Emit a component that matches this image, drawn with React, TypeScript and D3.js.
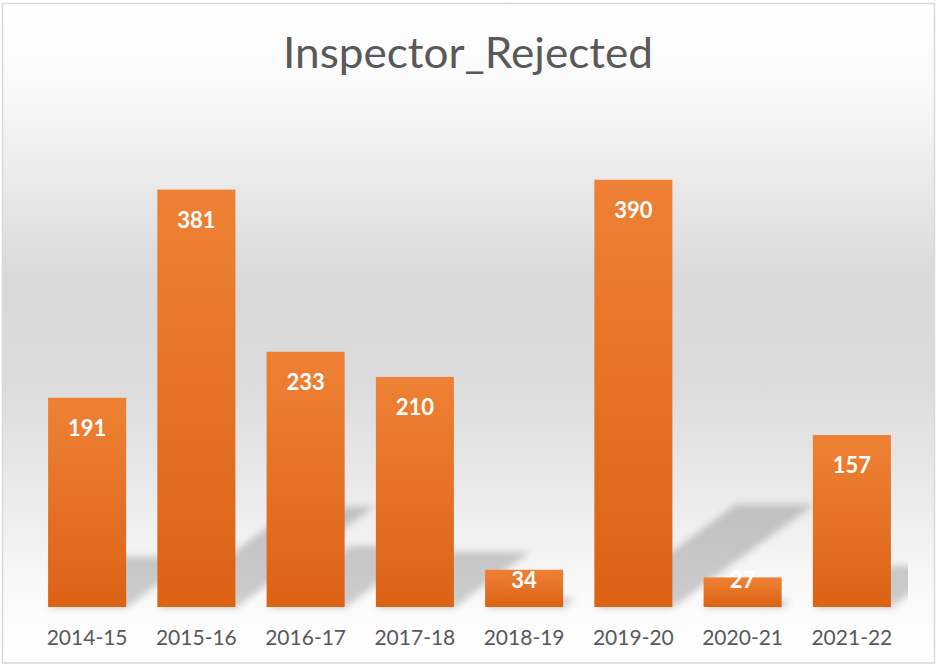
import React from "react";
import * as d3 from "d3";

const categories = ["2014-15", "2015-16", "2016-17", "2017-18", "2018-19", "2019-20", "2020-21", "2021-22"];
const values = [191, 381, 233, 210, 34, 390, 27, 157];
const title = "Inspector_Rejected";

const W = 936;
const H = 666;

export default function App() {
  const x = d3
    .scaleBand<string>()
    .domain(categories)
    .range([32.5, 906.5])
    .paddingInner(0.2857)
    .paddingOuter(0.1428);
  const y = d3.scaleLinear().domain([0, 450]).range([607, 114]);
  const y0 = y(0);

  const shadowPath = (c: string, v: number) => {
    const x0 = x(c)!;
    const x1 = x0 + x.bandwidth();
    const h = y0 - y(v);
    const sh = h * 0.24;
    const shift = sh * 1.38;
    const p = d3.path();
    p.moveTo(x0, y0 + 1);
    p.lineTo(x1, y0 + 1);
    p.lineTo(x1 + shift, y0 - sh);
    p.lineTo(x0 + shift, y0 - sh);
    p.closePath();
    return p.toString();
  };

  return (
    <svg
      width={W}
      height={H}
      style={{ position: "absolute", left: 0, top: 0 }}
      fontFamily="Lato, 'Open Sans', sans-serif"
    >
      <defs>
        <linearGradient id="bg" x1="0" y1="0" x2="0" y2="1">
          <stop offset="0" stopColor="#ffffff" />
          <stop offset="0.12" stopColor="#fafafa" />
          <stop offset="0.25" stopColor="#ececec" />
          <stop offset="0.42" stopColor="#d9d9d9" />
          <stop offset="0.58" stopColor="#dcdcdc" />
          <stop offset="0.76" stopColor="#ececec" />
          <stop offset="0.9" stopColor="#fafafa" />
          <stop offset="1" stopColor="#ffffff" />
        </linearGradient>
        <linearGradient id="bar" x1="0" y1="0" x2="0" y2="1">
          <stop offset="0" stopColor="#ee8135" />
          <stop offset="1" stopColor="#dc6214" />
        </linearGradient>
        <filter id="blur" x="-20%" y="-20%" width="140%" height="140%">
          <feGaussianBlur stdDeviation="3.5" />
        </filter>
        <clipPath id="plotClip">
          <rect x={32} y={100} width={876} height={515} />
        </clipPath>
      </defs>

      <rect x={2.5} y={3.5} width={932} height={659.5} fill="url(#bg)" stroke="#d9d9d9" strokeWidth={1.5} />

      <text
        x={468}
        y={68}
        textAnchor="middle"
        fontSize={42}
        fill="#595959"
        fontWeight={400}
        textLength={370}
        lengthAdjust="spacingAndGlyphs"
      >
        {title}
      </text>

      <g clipPath="url(#plotClip)">
        <g filter="url(#blur)">
          {categories.map((c, i) => (
            <path key={c} d={shadowPath(c, values[i])} fill="#000" fillOpacity={0.19} />
          ))}
        </g>
      </g>

      {categories.map((c, i) => (
        <rect
          key={c}
          x={x(c)!}
          y={y(values[i])}
          width={x.bandwidth()}
          height={y0 - y(values[i])}
          fill="url(#bar)"
        />
      ))}

      {categories.map((c, i) => (
        <text
          key={c}
          x={x(c)! + x.bandwidth() / 2}
          y={Math.min(y(values[i]) + 38, y0 - 19)}
          textAnchor="middle"
          fontSize={22}
          fontWeight={700}
          fill="#ffffff"
        >
          {values[i]}
        </text>
      ))}

      {categories.map((c) => (
        <text
          key={c}
          x={x(c)! + x.bandwidth() / 2}
          y={645}
          textAnchor="middle"
          fontSize={21}
          fill="#595959"
        >
          {c}
        </text>
      ))}
    </svg>
  );
}
